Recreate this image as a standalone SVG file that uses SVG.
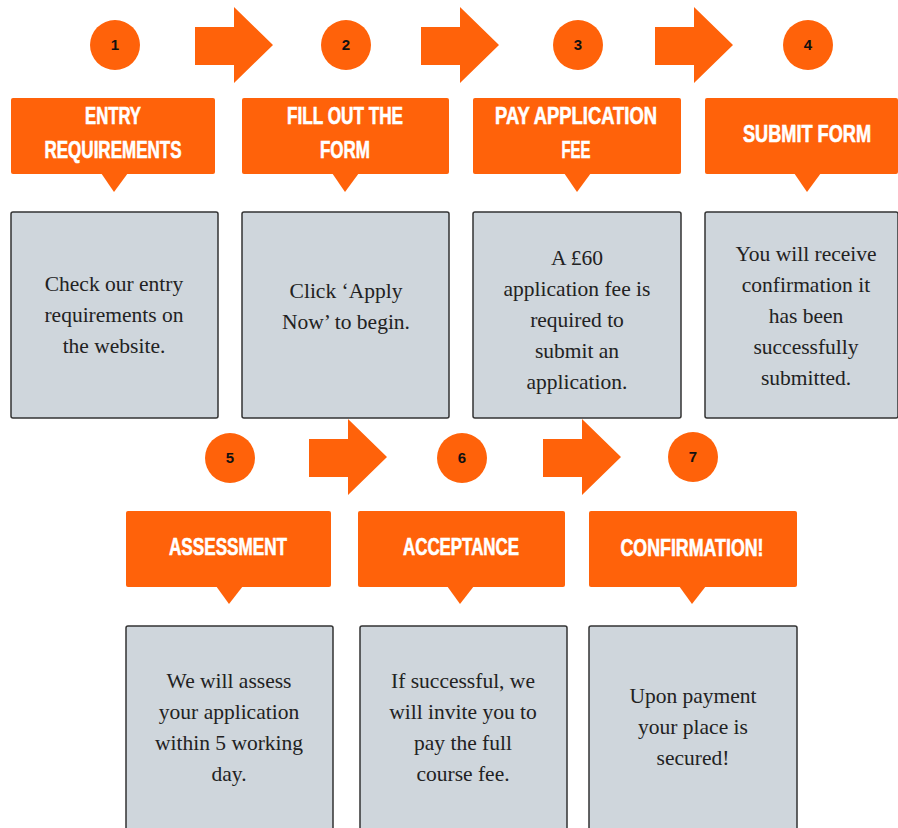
<svg xmlns="http://www.w3.org/2000/svg" width="898" height="828" viewBox="0 0 898 828">
<defs>
<style>
.num{fill:#ff620a}
.nt{font-family:"Liberation Sans",Arial,sans-serif;font-weight:bold;font-size:15px;fill:#111;text-anchor:middle}
.ban{fill:#ff620a}
.bt{font-family:"Liberation Sans",Arial,sans-serif;font-weight:bold;font-size:23px;fill:#fff;stroke:#fff;stroke-width:0.6;text-anchor:middle}
.box{fill:#cfd6dc;stroke:#333;stroke-width:1.5}
.tx{font-family:"Liberation Serif","Times New Roman",serif;font-size:21.5px;fill:#222;text-anchor:middle}
.arr{fill:#ff620a}
</style>
<path id="arrow" d="M0,20 H39 V0 L78,38 L39,76 V58 H0 Z"/>
</defs>
<rect width="898" height="828" fill="#fff"/>

<g id="connectors">
<use href="#arrow" class="arr" x="195" y="7"/>
<use href="#arrow" class="arr" x="421" y="7"/>
<use href="#arrow" class="arr" x="655" y="7"/>
<use href="#arrow" class="arr" x="309" y="419"/>
<use href="#arrow" class="arr" x="543" y="419"/>
</g>

<g id="step1">
<circle class="num" cx="115" cy="45" r="25"/>
<text class="nt" x="115" y="50">1</text>
<rect class="ban" x="11" y="98" width="204" height="76" rx="2"/>
<path class="ban" d="M101,173 H128 L114,192 Z"/>
<text class="bt" x="113" y="124" textLength="56" lengthAdjust="spacingAndGlyphs">ENTRY</text>
<text class="bt" x="113" y="158" textLength="137" lengthAdjust="spacingAndGlyphs">REQUIREMENTS</text>
<rect class="box" x="11" y="212" width="207" height="206" rx="2"/>
<text class="tx" x="114" y="291">Check our entry</text>
<text class="tx" x="114" y="322">requirements on</text>
<text class="tx" x="114" y="353">the website.</text>
</g>

<g id="step2">
<circle class="num" cx="346" cy="45" r="25"/>
<text class="nt" x="346" y="50">2</text>
<rect class="ban" x="242" y="98" width="207" height="76" rx="2"/>
<path class="ban" d="M332,173 H359 L345,192 Z"/>
<text class="bt" x="345" y="124" textLength="116" lengthAdjust="spacingAndGlyphs">FILL OUT THE</text>
<text class="bt" x="345" y="158" textLength="50" lengthAdjust="spacingAndGlyphs">FORM</text>
<rect class="box" x="242" y="212" width="207" height="206" rx="2"/>
<text class="tx" x="346" y="298">Click ‘Apply</text>
<text class="tx" x="346" y="329">Now’ to begin.</text>
</g>

<g id="step3">
<circle class="num" cx="578" cy="45" r="25"/>
<text class="nt" x="578" y="50">3</text>
<rect class="ban" x="473" y="98" width="208" height="76" rx="2"/>
<path class="ban" d="M564,173 H591 L577,192 Z"/>
<text class="bt" x="576" y="124" textLength="162" lengthAdjust="spacingAndGlyphs">PAY APPLICATION</text>
<text class="bt" x="576" y="158" textLength="29" lengthAdjust="spacingAndGlyphs">FEE</text>
<rect class="box" x="473" y="212" width="208" height="206" rx="2"/>
<text class="tx" x="577" y="265">A £60</text>
<text class="tx" x="577" y="296">application fee is</text>
<text class="tx" x="577" y="327">required to</text>
<text class="tx" x="577" y="358">submit an</text>
<text class="tx" x="577" y="389">application.</text>
</g>

<g id="step4">
<circle class="num" cx="808" cy="45" r="25"/>
<text class="nt" x="808" y="50">4</text>
<rect class="ban" x="705" y="98" width="193" height="76" rx="2"/>
<path class="ban" d="M794,173 H821 L807,192 Z"/>
<text class="bt" x="807" y="142" textLength="128" lengthAdjust="spacingAndGlyphs">SUBMIT FORM</text>
<rect class="box" x="705" y="212" width="193" height="206" rx="2"/>
<text class="tx" x="806" y="261">You will receive</text>
<text class="tx" x="806" y="292">confirmation it</text>
<text class="tx" x="806" y="323">has been</text>
<text class="tx" x="806" y="354">successfully</text>
<text class="tx" x="806" y="385">submitted.</text>
</g>

<g id="step5">
<circle class="num" cx="230" cy="458" r="25"/>
<text class="nt" x="230" y="463">5</text>
<rect class="ban" x="126" y="511" width="205" height="76" rx="2"/>
<path class="ban" d="M216,586 H243 L229,604 Z"/>
<text class="bt" x="228" y="555" textLength="118" lengthAdjust="spacingAndGlyphs">ASSESSMENT</text>
<rect class="box" x="126" y="626" width="207" height="210" rx="2"/>
<text class="tx" x="229" y="688">We will assess</text>
<text class="tx" x="229" y="719">your application</text>
<text class="tx" x="229" y="750">within 5 working</text>
<text class="tx" x="229" y="781">day.</text>
</g>

<g id="step6">
<circle class="num" cx="462" cy="458" r="25"/>
<text class="nt" x="462" y="463">6</text>
<rect class="ban" x="358" y="511" width="207" height="76" rx="2"/>
<path class="ban" d="M447,586 H474 L460,604 Z"/>
<text class="bt" x="461" y="555" textLength="116" lengthAdjust="spacingAndGlyphs">ACCEPTANCE</text>
<rect class="box" x="360" y="626" width="207" height="210" rx="2"/>
<text class="tx" x="463" y="688">If successful, we</text>
<text class="tx" x="463" y="719">will invite you to</text>
<text class="tx" x="463" y="750">pay the full</text>
<text class="tx" x="463" y="781">course fee.</text>
</g>

<g id="step7">
<circle class="num" cx="693" cy="457" r="25"/>
<text class="nt" x="693" y="462">7</text>
<rect class="ban" x="589" y="511" width="208" height="76" rx="2"/>
<path class="ban" d="M679,586 H706 L692,604 Z"/>
<text class="bt" x="692" y="556" textLength="143" lengthAdjust="spacingAndGlyphs">CONFIRMATION!</text>
<rect class="box" x="589" y="626" width="208" height="210" rx="2"/>
<text class="tx" x="693" y="703">Upon payment</text>
<text class="tx" x="693" y="734">your place is</text>
<text class="tx" x="693" y="765">secured!</text>
</g>
</svg>
